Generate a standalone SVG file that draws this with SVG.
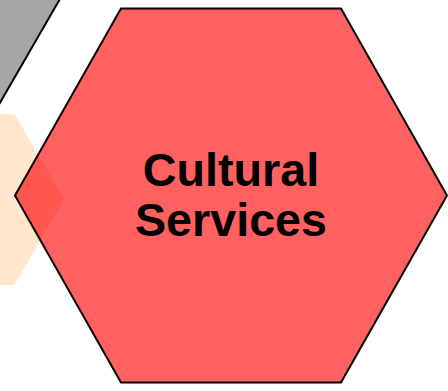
<svg xmlns="http://www.w3.org/2000/svg" width="448" height="391" viewBox="0 0 448 391">
  <style>
    .lbl { font-family: "Liberation Sans", Arial, sans-serif; font-weight: bold; font-size: 46.7px; fill: #000; text-anchor: middle; }
  </style>
  <rect width="448" height="391" fill="#ffffff"/>
  <g id="node-gray">
    <polygon points="-338,-60 -230,-247 -14,-247 94,-60 -14,127 -230,127" fill="#a6a6a6" stroke="#000" stroke-width="2"/>
  </g>
  <g id="node-orange">
    <polygon points="-134,199 -84.5,114 14.5,114 64,199 14.5,285 -84.5,285" fill="#ffe6cc"/>
  </g>
  <g id="connectors"></g>
  <g id="node-cultural">
    <polygon points="15,195.5 121,8.5 341,8.5 447,195.5 341,382.5 121,382.5" fill="#ff0000" fill-opacity="0.625" stroke="#000" stroke-width="2" stroke-linejoin="miter"/>
    <text class="lbl" x="231" y="186">Cultural</text>
    <text class="lbl" x="231" y="236">Services</text>
  </g>
</svg>
